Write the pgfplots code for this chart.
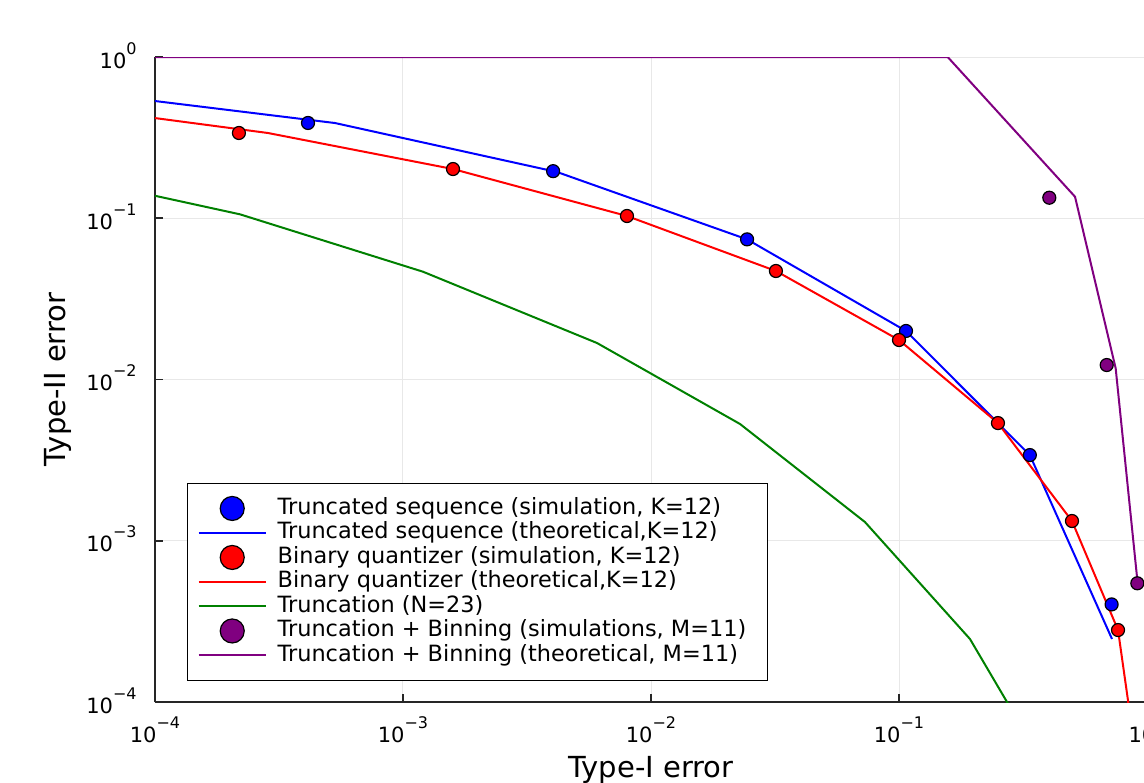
\documentclass[border=0pt]{standalone}
\usepackage{fontspec}
\setmainfont{DejaVu Sans}
\usepackage{pgfplots}
\pgfplotsset{compat=1.18}

\definecolor{jgreen}{rgb}{0,0.5,0}
\definecolor{jpurple}{rgb}{0.5,0,0.5}

% tick label: 10 with a raised exponent
\newcommand{\dec}[1]{10\smash{\raisebox{7pt}{\fontsize{8}{9}\selectfont #1}}}
\newcommand{\legtext}[1]{\makebox[240pt][l]{#1}}

\pgfplotsset{
  lineleg/.style={legend image code/.code={%
      \draw[##1] (0pt,0pt) -- (33.5pt,0pt);
      \path[draw=none, fill=none] (0pt,-4pt) rectangle (33.5pt,4pt);}},
  dotleg/.style={legend image code/.code={%
      \draw[overlay, draw=black, fill=#1, line width=0.6pt] (16.75pt,0pt) circle (6pt);
      \path[draw=none, fill=none] (0pt,-4pt) rectangle (33.5pt,4pt);}},
  dots/.style={only marks, mark=*, mark size=3.25pt,
      mark options={draw=black, fill=#1, line width=0.6pt}, dotleg=#1},
}

\begin{document}
\begin{tikzpicture}
\begin{axis}[
    scale only axis,
    width=496pt, height=322.5pt,
    xmode=log, ymode=log,
    xmin=1e-4, xmax=1, ymin=1e-4, ymax=1,
    axis lines=left,
    axis line style={-, black!85, line width=0.8pt},
    tick align=inside, major tick length=4pt,
    tick style={black!85, line width=0.8pt},
    xminorticks=false, yminorticks=false,
    grid=major, grid style={black!9, line width=0.5pt},
    xtick={1e-4,1e-3,1e-2,1e-1,1},
    ytick={1e-4,1e-3,1e-2,1e-1,1},
    xticklabels={\dec{−4},\dec{−3},\dec{−2},\dec{−1},\dec{0}},
    yticklabels={\dec{−4},\dec{−3},\dec{−2},\dec{−1},\dec{0}},
    ticklabel style={font=\fontsize{10.5}{12}\selectfont},
    xticklabel style={anchor=base, yshift=-20pt, inner sep=0pt},
    yticklabel style={anchor=base east, xshift=-9pt, yshift=-5.5pt, inner sep=0pt},
    xlabel={Type-I error}, ylabel={Type-II error},
    label style={font=\fontsize{14.5}{17}\selectfont},
    xlabel style={at={(axis description cs:0.5,-0.1163)}, anchor=base, inner sep=0pt},
    ylabel style={at={(axis description cs:-0.0897,0.5)}, anchor=base, inner sep=0pt},
    legend cell align=left,
    legend style={at={(0.03226,0.03256)}, anchor=south west,
      draw=black, line width=0.75pt, inner xsep=5pt, inner ysep=7pt,
      row sep=1.45pt, column sep=5.5pt,
      nodes={inner sep=0pt, text height=8.2pt, text depth=2.6pt},
      font=\fontsize{11.2}{13}\selectfont},
]

\addplot[dots=blue] coordinates {
  (4.14e-4,0.390) (4.03e-3,0.196) (0.0244,0.0740)
  (0.1067,0.0200) (0.337,3.40e-3) (0.72,4.03e-4)
};
\addlegendentry{\legtext{Truncated sequence (simulation, K=12)}}

\addplot[blue, line width=1pt, lineleg] coordinates {
  (1e-4,0.5335) (5.32e-4,0.3897) (4.18e-3,0.1936) (0.0244,0.0740)
  (0.1067,0.0200) (0.337,3.40e-3) (0.7226,2.46e-4)
};
\addlegendentry{\legtext{Truncated sequence (theoretical,K=12)}}

\addplot[dots=red] coordinates {
  (2.18e-4,0.338) (1.591e-3,0.202) (8.0e-3,0.1033) (0.0319,0.0471)
  (0.100,0.01758) (0.2506,5.37e-3) (0.4983,1.326e-3) (0.7642,2.795e-4)
};
\addlegendentry{\legtext{Binary quantizer (simulation, K=12)}}

\addplot[red, line width=1pt, lineleg] coordinates {
  (1e-4,0.4183) (2.854e-4,0.3379) (1.591e-3,0.202) (8.0e-3,0.1033)
  (0.0319,0.0471) (0.100,0.01758) (0.2506,5.37e-3) (0.4983,1.326e-3)
  (0.7642,2.795e-4) (0.84,1e-4) (0.86,3e-5)
};
\addlegendentry{\legtext{Binary quantizer (theoretical,K=12)}}

\addplot[jgreen, line width=1pt, lineleg] coordinates {
  (1e-4,0.1379) (2.202e-4,0.1058) (1.204e-3,0.04662) (6.06e-3,0.01684)
  (0.02285,5.30e-3) (0.0729,1.307e-3) (0.1933,2.459e-4) (0.432,3e-5)
};
\addlegendentry{\legtext{Truncation (N=23)}}

\addplot[dots=jpurple] coordinates {
  (0.4037,0.1341) (0.688,0.01230) (0.914,5.45e-4)
};
\addlegendentry{\legtext{Truncation + Binning (simulations, M=11)}}

\addplot[jpurple, line width=1pt, lineleg] coordinates {
  (1e-4,1) (0.1572,1) (0.5126,0.1360) (0.7477,0.01173) (0.914,5.71e-4)
};
\addlegendentry{\legtext{Truncation + Binning (theoretical, M=11)}}

\end{axis}
\pgfresetboundingbox
\useasboundingbox (-77.5pt,-40pt) rectangle (494.5pt,351pt);
\end{tikzpicture}
\end{document}
